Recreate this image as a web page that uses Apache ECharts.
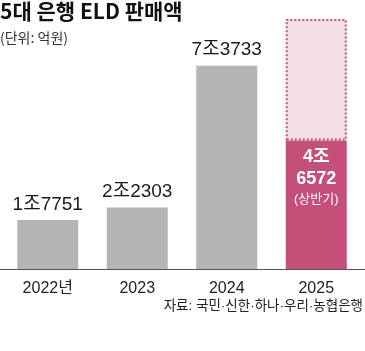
<!DOCTYPE html>
<html><head><meta charset="utf-8">
<script src="https://cdn.jsdelivr.net/npm/echarts@6/dist/echarts.min.js"></script>
<style>html,body{margin:0;padding:0;background:#fff}#c{width:365px;height:351px}</style>
</head><body><div id="c"></div>
<script>
const categories = ['2022년', '2023', '2024', '2025'];
const values = [17751, 22303, 73733, 46572];
const valueLabels = ['1조7751', '2조2303', '7조3733', '4조\n6572\n(상반기)'];
const outlineRemainder = [null, null, null, 44100];
const titleText = '5대 은행 ELD 판매액';
const unitText = '(단위: 억원)';
const sourceText = '자료: 국민·신한·하나·우리·농협은행';

const GRAY = '#b4b5b4', PINK = '#c4507a';
const latin = '"Liberation Sans", "Noto Sans CJK KR", sans-serif';
function richLabel(s) {
  return s.split('\n').map(l => (l.startsWith('(') ? '{s|' : '{b|') + l + '}').join('\n');
}
const chart = echarts.init(document.getElementById('c'));
chart.setOption({
  animation: false,
  title: [
    { text: titleText, left: 0, top: 1, textStyle: { fontFamily: '"Noto Sans CJK KR"', fontWeight: 'bold', fontSize: 21, color: '#111' },
      subtext: unitText, subtextStyle: { fontFamily: '"Noto Sans CJK KR"', fontSize: 14, color: '#333' }, itemGap: 9, padding: 0 },
    { text: sourceText, right: 2, top: 300, padding: 0, textStyle: { fontFamily: latin, fontWeight: 'normal', fontSize: 13.5, color: '#222' } }
  ],
  grid: { left: 3, right: 4, top: 7, bottom: 82 },
  xAxis: {
    type: 'category', data: categories,
    axisLine: { show: false }, axisTick: { show: false },
    axisLabel: { margin: 12, fontFamily: latin, fontSize: 16, color: '#222' }
  },
  yAxis: { type: 'value', min: 0, max: 95000, show: false, splitLine: { show: false } },
  series: [
    {
      type: 'bar', stack: 's', barWidth: 61,
      data: values.map((v, i) => ({
        value: v,
        itemStyle: { color: i === 3 ? PINK : GRAY },
        label: i === 3 ? {
          show: true, position: 'insideTop', distance: 5, formatter: richLabel(valueLabels[i]),
          rich: {
            b: { color: '#fff', fontFamily: latin, fontSize: 18, fontWeight: 'bold', lineHeight: 22 },
            s: { color: '#fff', fontFamily: latin, fontSize: 13, fontWeight: 'normal', lineHeight: 20 }
          }
        } : {
          show: true, position: 'top', distance: 6, formatter: valueLabels[i],
          color: '#1a1a1a', fontFamily: latin, fontSize: 19, lineHeight: 19
        }
      }))
    },
    {
      type: 'bar', stack: 's', barWidth: 61, silent: true,
      data: outlineRemainder,
      itemStyle: { color: '#f5dfe6', borderColor: PINK, borderWidth: 2, borderType: [2, 2] }
    }
  ],
  graphic: [
    { type: 'line', shape: { x1: 0, y1: 269.5, x2: 365, y2: 269.5 }, style: { stroke: '#555', lineWidth: 1 } }
  ]
});
</script></body></html>
